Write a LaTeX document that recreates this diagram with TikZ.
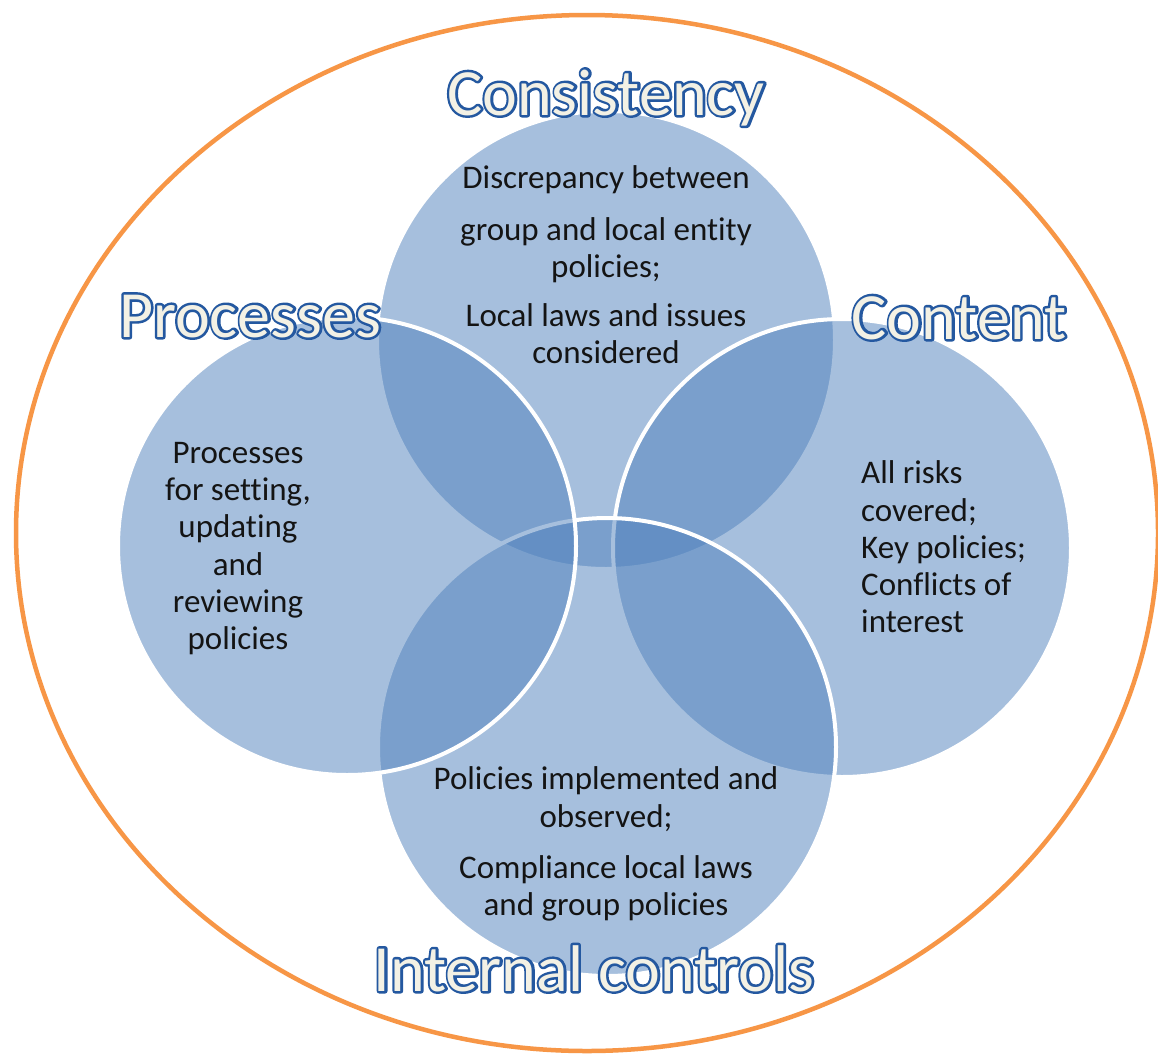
\documentclass[tikz,border=0pt]{standalone}
\usepackage{fontspec}
\setmainfont{Carlito}[Ligatures=NoCommon]
\definecolor{vennblue}{RGB}{79,129,189}
\definecolor{ringorange}{RGB}{247,150,70}
\definecolor{titlecream}{RGB}{243,241,229}
\definecolor{bodytext}{RGB}{20,20,20}
% outline pass (stroke only, blue) then fill pass (cream) on top
\newcommand\outlinedtitle[1]{\rlap{\special{pdf:literal direct 1 Tr 5 w 1 j 0.141 0.345 0.627 RG}#1\special{pdf:literal direct 0 Tr 0.4 w 0 j}}#1}
\tikzset{
  venncircle/.style={fill=vennblue, fill opacity=0.5, draw=white, draw opacity=1, line width=4pt},
  ring/.style={draw=ringorange, line width=4.5pt},
  titletext/.style={font=\fontsize{66}{74}\selectfont, text=titlecream, inner sep=0pt, anchor=base},
  bodyline/.style={font=\fontsize{33}{40}\selectfont, text=bodytext, inner sep=0pt, anchor=base},
  bodyleft/.style={bodyline, anchor=base west}
}
\begin{document}
\begin{tikzpicture}[x=1pt,y=-1pt]
\useasboundingbox (0,0) rectangle (1158,1055);
\fill[white] (0,0) rectangle (1158,1055);
% outer ring
\draw[ring] (587,533) ellipse [x radius=571, y radius=518];
% circles (drawing order: top, right, bottom, left)
\path[venncircle] (606,340) circle [radius=229];
\path[venncircle] (842,548) circle [radius=229];
\path[venncircle] (607,747) circle [radius=229];
\path[venncircle] (347,546) circle [radius=229];
% top circle text
\node[bodyline] (c1) at (606,188) {Discrepancy between};
\node[bodyline] (c2) at (606,240) {group and local entity};
\node[bodyline] (c3) at (606,277) {policies;};
\node[bodyline] (c4) at (606,326) {Local laws and issues};
\node[bodyline] (c5) at (606,363) {considered};
% left circle text
\node[bodyline] (p1) at (238,463) {Processes};
\node[bodyline] (p2) at (238,500) {for setting,};
\node[bodyline] (p3) at (238,537) {updating};
\node[bodyline] (p4) at (238,575) {and};
\node[bodyline] (p5) at (238,612) {reviewing};
\node[bodyline] (p6) at (238,649) {policies};
% right circle text
\node[bodyleft] (r1) at (861,483) {All risks};
\node[bodyleft] (r2) at (861,521) {covered;};
\node[bodyleft] (r3) at (861,558) {Key policies;};
\node[bodyleft] (r4) at (861,595) {Conflicts of};
\node[bodyleft] (r5) at (861,632) {interest};
% bottom circle text
\node[bodyline] (b1) at (606,789) {Policies implemented and};
\node[bodyline] (b2) at (606,827) {observed;};
\node[bodyline] (b3) at (606,878) {Compliance local laws};
\node[bodyline] (b4) at (606,915) {and group policies};
% titles (outlined text)
\node[titletext] (tcons) at (606,115) {\outlinedtitle{Consistency}};
\node[titletext] (tproc) at (250,337) {\outlinedtitle{Processes}};
\node[titletext] (tcont) at (959,339) {\outlinedtitle{Content}};
\node[titletext] (tint) at (594,991) {\outlinedtitle{Internal controls}};
\end{tikzpicture}
\end{document}
